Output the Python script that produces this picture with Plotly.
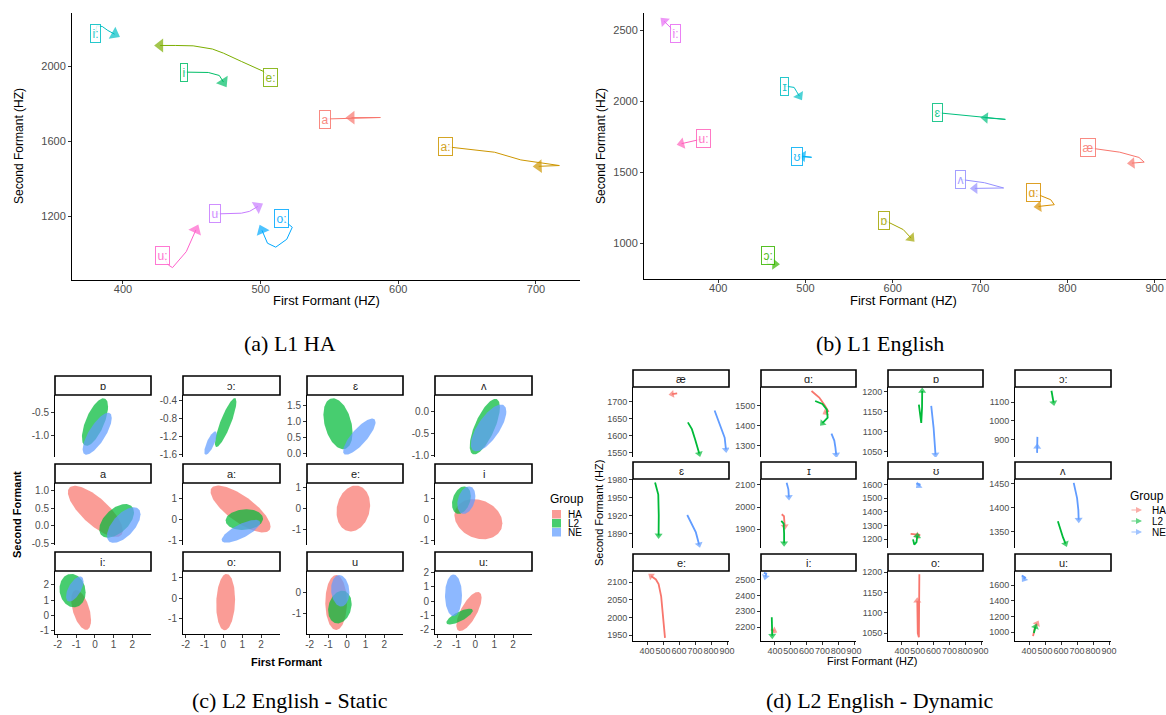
import numpy as np
import plotly.graph_objects as go

W, H = 1166, 715
SANS = "Liberation Sans, Arial, Helvetica, sans-serif"
SERIF = "Liberation Serif, Times New Roman, serif"
TICK = "#4D4D4D"

# ===================== DATA =====================
# (a) L1 HA : vowel trajectories (F1, F2 in Hz); label at first point, arrow at last
a_vowels = ["a", "a:", "e:", "i", "i:", "o:", "u", "u:"]
a_colors = ["#F8766D", "#CD9600", "#7CAE00", "#00BE67", "#00BFC4", "#00A9FF", "#C77CFF", "#FF61CC"]
a_f1 = [
    [547, 587, 566],
    [634, 670, 689, 717, 702],
    [507, 502, 486, 473, 465, 451, 438, 427],
    [444, 462, 470, 473],
    [380, 381, 385, 389, 394],
    [515, 523, 519, 511, 505, 501],
    [467, 486, 492, 498],
    [429, 433, 436, 446, 453],
]
a_f2 = [
    [1718, 1726, 1725],
    [1571, 1541, 1500, 1470, 1466],
    [1938, 1972, 2025, 2069, 2091, 2108, 2110, 2110],
    [1968, 1966, 1950, 1915],
    [2174, 2215, 2211, 2190, 2170],
    [1189, 1141, 1077, 1035, 1056, 1125],
    [1212, 1216, 1226, 1252],
    [988, 940, 926, 1011, 1127],
]
a_xticks = [400, 500, 600, 700]
a_yticks = [1200, 1600, 2000]

# (b) L1 English
b_vowels = ["æ", "ɑ:", "ɒ", "ɔ:", "ɛ", "ɪ", "ʊ", "ʌ", "i:", "u:"]
b_colors = ["#F8766D", "#D89000", "#A3A500", "#39B600", "#00BF7D", "#00BFC4", "#00B0F6", "#9590FF", "#E76BF3", "#FF62BC"]
b_f1 = [
    [824, 860, 882, 888, 874],
    [761, 781, 785, 767],
    [590, 612, 621],
    [457, 456, 465],
    [651, 729, 706],
    [476, 487, 490, 493],
    [490, 507, 497],
    [678, 705, 727, 694],
    [351, 345, 338],
    [383, 370, 358],
]
b_f2 = [
    [1671, 1640, 1603, 1570, 1563],
    [1355, 1305, 1270, 1258],
    [1162, 1095, 1035],
    [909, 855, 852],
    [1918, 1871, 1882],
    [2106, 2096, 2065, 2035],
    [1610, 1604, 1612],
    [1448, 1425, 1388, 1385],
    [2474, 2520, 2562],
    [1735, 1718, 1700],
]
b_xticks = [400, 500, 600, 700, 800, 900]
b_yticks = [1000, 1500, 2000, 2500]

groups = ["HA", "L2", "NE"]
group_colors = ["#F8766D", "#00BA38", "#619CFF"]

# (c) L2 English - Static : normalised ellipses (centre, half-extent, correlation)
c_facets = ["ɒ", "ɔ:", "ɛ", "ʌ", "a", "a:", "e:", "i", "i:", "o:", "u", "u:"]
c_facet = [0, 0, 1, 1, 2, 2, 3, 3, 4, 4, 4, 5, 5, 5, 6, 7, 7, 7, 8, 8, 8, 9, 10, 10, 10, 11, 11, 11]
c_group = ["L2", "NE", "L2", "NE", "L2", "NE", "L2", "NE",
           "HA", "L2", "NE", "HA", "L2", "NE", "HA", "HA", "L2", "NE",
           "HA", "L2", "NE", "HA", "HA", "L2", "NE", "HA", "L2", "NE"]
c_cx = [0.0, 0.12, 0.12, -0.68, -0.48, 0.66, 0.5, 0.7,
        0.02, 1.16, 1.54, 0.91, 1.11, 0.93, 0.34, 0.16, -0.74, -0.48,
        -0.74, -1.2, -1.08, 0.12, -0.58, -0.38, -0.36, -0.34, -0.84, -1.16]
c_cy = [-0.71, -0.96, -0.885, -1.34, 0.92, 0.52, -0.34, -0.37,
        0.41, 0.14, 0.02, 0.48, -0.02, -0.57, 0.0, 0.0, 0.9, 0.9,
        0.37, 1.63, 1.74, -0.2, -0.48, -0.70, 0.08, -0.72, -1.07, 0.4]
c_sx = [0.7, 0.78, 0.57, 0.33, 0.78, 0.87, 0.8, 0.94,
        1.47, 0.93, 0.9, 1.59, 0.99, 1.02, 0.9, 1.27, 0.5, 0.48,
        0.53, 0.7, 0.47, 0.5, 0.58, 0.63, 0.49, 0.67, 0.7, 0.45]
c_sy = [0.51, 0.45, 0.545, 0.26, 0.79, 0.56, 0.64, 0.54,
        0.73, 0.48, 0.51, 1.11, 0.49, 0.54, 1.09, 0.95, 0.65, 0.65,
        1.3, 1.09, 0.82, 1.39, 1.31, 0.78, 0.75, 1.36, 0.55, 1.45]
c_rho = [0.65, 0.75, 0.85, 0.75, -0.35, 0.8, 0.7, 0.7,
         -0.75, 0.5, 0.6, -0.75, 0.1, 0.75, 0.15, -0.2, 0.3, 0.3,
         -0.5, -0.1, 0.6, 0.1, 0.0, 0.2, -0.1, 0.7, 0.75, 0.0]
c_xticks = [-2, -1, 0, 1, 2]
c_ytick_labels = [
    ["-1.0", "-0.5"], ["-1.6", "-1.2", "-0.8", "-0.4"], ["0.0", "0.5", "1.0", "1.5"], ["-1.0", "-0.5", "0.0"],
    ["-0.5", "0.0", "0.5", "1.0"], ["-1", "0", "1"], ["-1", "0", "1"], ["-1", "0", "1"],
    ["-1", "0", "1", "2"], ["-1", "0", "1"], ["-1", "0"], ["-2", "-1", "0", "1", "2"],
]

# (d) L2 English - Dynamic : group trajectories per vowel
d_facets = ["æ", "ɑ:", "ɒ", "ɔ:", "ɛ", "ɪ", "ʊ", "ʌ", "e:", "i:", "o:", "u:"]
d_facet = [0, 0, 0, 1, 1, 1, 2, 2, 3, 3, 4, 4, 5, 5, 5, 6, 6, 6, 7, 7, 8, 9, 9, 9, 10, 11, 11, 11]
d_group = ["HA", "L2", "NE", "HA", "L2", "NE", "L2", "NE", "L2", "NE", "L2", "NE",
           "HA", "L2", "NE", "HA", "L2", "NE", "L2", "NE", "HA", "HA", "L2", "NE",
           "HA", "HA", "L2", "NE"]
d_f1 = [
    [588, 570, 556], [655, 680, 700, 715, 726], [822, 860, 885, 893],
    [631, 680, 715, 736, 720], [654, 700, 728, 733, 700], [757, 775, 782, 787],
    [507, 515, 522, 527, 528], [585, 600, 612],
    [540, 546, 553], [452, 450, 451],
    [450, 462, 470, 473, 472], [651, 680, 705, 725],
    [443, 457, 460, 462], [440, 455, 458, 458], [474, 485, 488],
    [455, 515, 495], [470, 478, 492, 497], [490, 515, 505],
    [580, 600, 612, 628], [679, 700, 708, 710],
    [512, 500, 488, 472, 455, 425],
    [375, 395], [380, 382, 383], [330, 345, 340],
    [510, 507, 500, 497],
    [425, 435, 450], [430, 435, 440], [355, 375, 368],
]
d_f2 = [
    [1725, 1724, 1723], [1640, 1620, 1590, 1568, 1548], [1675, 1630, 1595, 1560],
    [1573, 1540, 1500, 1472, 1465], [1523, 1508, 1480, 1440, 1412], [1360, 1325, 1290, 1255],
    [1168, 1140, 1122, 1160, 1202], [1165, 1110, 1043],
    [1160, 1128, 1097], [915, 830, 862],
    [1975, 1963, 1955, 1920, 1887], [1921, 1905, 1892, 1872],
    [1967, 1958, 1930, 1912], [1937, 1925, 1880, 1835], [2110, 2080, 2045],
    [1240, 1232, 1226], [1200, 1162, 1180, 1225], [1605, 1600, 1590],
    [1372, 1350, 1338, 1325], [1452, 1420, 1395, 1375],
    [1942, 2000, 2060, 2095, 2108, 2118],
    [2185, 2175], [2262, 2200, 2145], [2545, 2540, 2520],
    [1195, 1040, 1050, 1130],
    [950, 1050, 1110], [990, 1040, 1070], [1725, 1700, 1680],
]
d_xticks = [400, 500, 600, 700, 800, 900]
d_yticks = [
    [1550, 1600, 1650, 1700], [1300, 1400, 1500], [1050, 1100, 1150, 1200], [900, 1000, 1100],
    [1890, 1920, 1950, 1980], [1900, 2000, 2100], [1200, 1300, 1400, 1500, 1600], [1350, 1400, 1450],
    [1950, 2000, 2050, 2100], [2200, 2300, 2400, 2500], [1050, 1100, 1150, 1200], [1000, 1200, 1400, 1600],
]

captions = ["(a) L1 HA", "(b) L1 English", "(c) L2 English - Static", "(d) L2 English - Dynamic"]

# ===================== LAYOUT CONFIG =====================
a_box = (72, 580, 13, 280); a_xr = [363, 732]; a_yr = [860, 2283]
b_box = (644, 1166, 13, 279); b_xr = [315, 913]; b_yr = [747, 2620]
c_cols = [(55, 151), (183, 280), (307, 403), (435, 532)]
c_rows = [(376, 395, 457), (464, 483, 545), (552, 571, 634)]
c_xr = [-2.14, 3.0]
c_yr = [[-1.46, -0.13], [-1.65, -0.27], [-0.11, 1.81], [-1.04, 0.39],
        [-0.55, 1.22], [-1.22, 1.71], [-1.73, 1.21], [-1.22, 1.71],
        [-1.2, 2.91], [-1.77, 1.33], [-1.98, 1.02], [-2.28, 2.09]]
d_cols = [(633, 729), (761, 856), (888, 983), (1015, 1111)]
d_rows = [(370, 387, 457), (462, 479, 548), (554, 571, 641)]
d_xr = [312, 912]
d_yr = [[1538, 1744], [1243, 1593], [1037, 1212], [808, 1180],
        [1866, 1981], [1814, 2127], [1137, 1639], [1316, 1460],
        [1933, 2132], [2111, 2557], [1031, 1203], [887, 1783]]

layout = dict(width=W, height=H, margin=dict(l=0, r=0, t=0, b=0, pad=0), template="none",
              paper_bgcolor="white", plot_bgcolor="white", showlegend=False,
              font=dict(family=SANS, color=TICK), shapes=[], annotations=[])
traces = []


def fx(px):
    return px / W


def fy(py):
    return 1 - py / H


def names(n):
    s = "" if n == 1 else str(n)
    return "xaxis" + s, "yaxis" + s, "x" + s, "y" + s


def add_axes(n, box, xr, yr, xt, xtt, yt, ytt, show_x, tsize, xstand=0):
    x0, x1, y0, y1 = box
    xa, ya, xs, ys = names(n)
    common = dict(showgrid=False, zeroline=False, linecolor="black", linewidth=1,
                  tickcolor="#333333", ticklen=3, tickwidth=1, tickangle=0,
                  tickfont=dict(family=SANS, size=tsize, color=TICK), fixedrange=True)
    layout[xa] = dict(domain=[fx(x0), fx(x1)], range=xr, anchor=ys, tickmode="array",
                      tickvals=xt, ticktext=xtt, showticklabels=show_x, showline=show_x,
                      ticks="outside" if show_x else "", ticklabelstandoff=xstand, **common)
    layout[ya] = dict(domain=[fy(y1), fy(y0)], range=yr, anchor=xs, tickmode="array",
                      tickvals=yt, ticktext=ytt, showticklabels=True, showline=True,
                      ticks="outside", **common)
    return xs, ys


def traj(xs, ys, f1, f2, color, width, asize):
    sizes = [0] * (len(f1) - 1) + [asize]
    traces.append(go.Scatter(
        x=f1, y=f2, xaxis=xs, yaxis=ys, mode="lines+markers",
        line=dict(color=color, width=width),
        marker=dict(symbol="triangle-up", size=sizes, color=color, angleref="previous",
                    line=dict(width=0)),
        hoverinfo="skip"))


def text(x, y, t, size, color="black", angle=0, bold=False, family=SANS, xanchor="center"):
    layout["annotations"].append(dict(
        x=fx(x), y=fy(y), xref="paper", yref="paper", text=("<b>%s</b>" % t) if bold else t,
        showarrow=False, textangle=angle, xanchor=xanchor, yanchor="middle",
        font=dict(family=family, size=size, color=color)))


def vlabel(xs, ys, x, y, v, c):
    layout["annotations"].append(dict(x=x, y=y, xref=xs, yref=ys, text=v, showarrow=False,
                                      font=dict(family=SANS, size=12, color=c), bgcolor="white",
                                      bordercolor=c, borderwidth=1, borderpad=1.5, opacity=0.85))


# ---------- panel (a) ----------
xs, ys = add_axes(1, a_box, a_xr, a_yr, a_xticks, [str(v) for v in a_xticks],
                  a_yticks, [str(v) for v in a_yticks], True, 11, -4)
for v, c, f1, f2 in zip(a_vowels, a_colors, a_f1, a_f2):
    traj(xs, ys, f1, f2, c, 1, 12)
    vlabel(xs, ys, f1[0], f2[0], v, c)
text(326, 300, "First Formant (HZ)", 13)
text(19, 146, "Second Formant (HZ)", 12, angle=-90)

# ---------- panel (b) ----------
xs, ys = add_axes(2, b_box, b_xr, b_yr, b_xticks, [str(v) for v in b_xticks],
                  b_yticks, [str(v) for v in b_yticks], True, 11, -4)
for v, c, f1, f2 in zip(b_vowels, b_colors, b_f1, b_f2):
    traj(xs, ys, f1, f2, c, 1, 10)
    vlabel(xs, ys, f1[0], f2[0], v, c)
text(903, 300, "First Formant (HZ)", 13)
text(601, 146, "Second Formant (HZ)", 12, angle=-90)


def strip(x0, x1, y0, y1, label):
    layout["shapes"].append(dict(type="rect", xref="paper", yref="paper",
                                 x0=fx(x0), x1=fx(x1), y0=fy(y1), y1=fy(y0),
                                 line=dict(color="black", width=1.6), fillcolor="white"))
    text((x0 + x1) / 2, (y0 + y1) / 2, label, 11, color="#1A1A1A")


def rgba(hexc, a):
    h = hexc.lstrip("#")
    return "rgba(%d,%d,%d,%.2f)" % (int(h[0:2], 16), int(h[2:4], 16), int(h[4:6], 16), a)


# ---------- panel (c) ----------
t = np.linspace(0, 2 * np.pi, 120)
c_axes = []
for k, lab in enumerate(c_facets):
    r, col = divmod(k, 4)
    x0, x1 = c_cols[col]
    st, pt, pb = c_rows[r]
    ytl = c_ytick_labels[k]
    xs, ys = add_axes(3 + k, (x0, x1, pt, pb), c_xr, c_yr[k], c_xticks, [str(v) for v in c_xticks],
                      [float(s) for s in ytl], ytl, r == 2, 10, -2)
    c_axes.append((xs, ys))
    strip(x0, x1, st, pt, lab)
for g in groups:
    gc = group_colors[groups.index(g)]
    for i in range(len(c_facet)):
        if c_group[i] != g:
            continue
        xs, ys = c_axes[c_facet[i]]
        rho = c_rho[i]
        ex = c_cx[i] + c_sx[i] * np.cos(t)
        ey = c_cy[i] + c_sy[i] * (rho * np.cos(t) + np.sqrt(1 - rho ** 2) * np.sin(t))
        traces.append(go.Scatter(x=ex, y=ey, xaxis=xs, yaxis=ys, mode="lines", fill="toself",
                                 fillcolor=rgba(gc, 0.72), line=dict(width=0), hoverinfo="skip"))
text(286, 662, "First Formant", 11, bold=True)
text(17, 515, "Second Formant", 11, angle=-90, bold=True)
text(548, 499, "Group", 12, xanchor="left")
for gi, g in enumerate(groups):
    yk = 510 + gi * 9
    layout["shapes"].append(dict(type="rect", xref="paper", yref="paper",
                                 x0=fx(552), x1=fx(561), y0=fy(yk + 8.5), y1=fy(yk),
                                 line=dict(width=0), fillcolor=rgba(group_colors[gi], 0.72)))
    text(566, yk + 4.5, g, 10, xanchor="left")

# ---------- panel (d) ----------
d_axes = []
for k, lab in enumerate(d_facets):
    r, col = divmod(k, 4)
    x0, x1 = d_cols[col]
    st, pt, pb = d_rows[r]
    xs, ys = add_axes(15 + k, (x0, x1, pt, pb), d_xr, d_yr[k], d_xticks, [str(v) for v in d_xticks],
                      d_yticks[k], [str(v) for v in d_yticks[k]], r == 2, 9, -2)
    d_axes.append((xs, ys))
    strip(x0, x1, st, pt, lab)
for g in groups:
    gc = group_colors[groups.index(g)]
    for i in range(len(d_facet)):
        if d_group[i] != g:
            continue
        xs, ys = d_axes[d_facet[i]]
        traj(xs, ys, d_f1[i], d_f2[i], gc, 1.8, 7)
text(872, 661, "First Formant (HZ)", 11)
text(599, 513, "Second Formant (HZ)", 11, angle=-90)
text(1128, 496, "Group", 12, xanchor="left")
for gi, g in enumerate(groups):
    yk = 510 + gi * 11
    layout["annotations"].append(dict(x=fx(1142), y=fy(yk), xref="paper", yref="paper", text="",
                                      showarrow=True, ax=-12, ay=0, arrowhead=2, arrowsize=1,
                                      arrowwidth=1.2, arrowcolor=group_colors[gi], opacity=0.6))
    text(1150, yk, g, 10, xanchor="left")

# ---------- captions ----------
text(290, 343, captions[0], 22, family=SERIF)
text(880, 343, captions[1], 22, family=SERIF)
text(290, 700, captions[2], 22, family=SERIF)
text(880, 700, captions[3], 22, family=SERIF)

fig = go.Figure(data=traces, layout=layout)
fig.write_html("out.html", config={"displayModeBar": False},
               post_script="document.body.style.margin='0';document.body.style.padding='0';")
